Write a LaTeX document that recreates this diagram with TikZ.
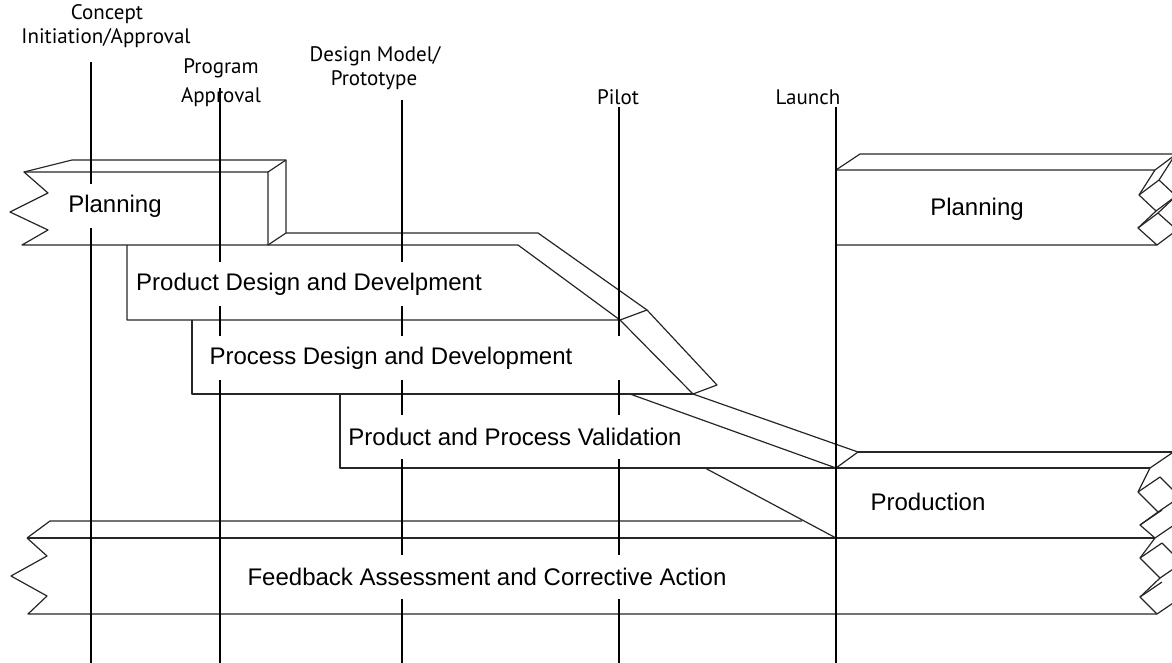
\documentclass[tikz,border=0pt]{standalone}
\usepackage{fontspec}
\setmainfont{Liberation Sans}
\newfontfamily\toplabelfont{PT Sans}
\begin{document}
\begin{tikzpicture}[x=1pt,y=-1pt,
  vline/.style={line width=2.2pt,black},
  edge/.style={line width=1.2pt,black!85,line join=round},
  boxlbl/.style={font=\fontsize{24}{24}\selectfont,fill=white,inner xsep=3pt,inner ysep=0pt,minimum height=44pt,anchor=center},
  gapfill/.style={fill=white,inner sep=0pt,minimum width=16pt,minimum height=44pt},
  toplbl/.style={font=\toplabelfont\fontsize{21}{22}\selectfont,inner sep=0pt,anchor=center}
]
\useasboundingbox (0,0) rectangle (1172,663);

% ---------- top labels ----------
\node[toplbl] (tc1) at (107,14) {Concept};
\node[toplbl] (tc2) at (106,38) {Initiation/Approval};
\node[toplbl] (tp1) at (221,68) {Program};
\node[toplbl] (tp2) at (221,97) {Approval};
\node[toplbl] (td1) at (375,56) {Design Model/};
\node[toplbl] (td2) at (374,80) {Prototype};
\node[toplbl] (tpi) at (618,97) {Pilot};
\node[toplbl] (tla) at (808,97) {Launch};

% ---------- left Planning ----------
\draw[edge] (24,172) -- (48,193) -- (10,212) -- (48,230) -- (22,245) -- (268,245) -- (268,172) -- cycle;
\draw[edge] (24,172) -- (72,160) -- (286,160) -- (286,233) -- (268,245);
\draw[edge] (268,172) -- (286,160);

% ---------- Product Design ----------
\draw[edge] (268,245) -- (518,245) -- (620,320) -- (127,320) -- (127,245);
\draw[edge] (286,233) -- (538,233) -- (647,310) -- (620,320);
\draw[edge] (620,320) -- (693,394) -- (717,385) -- (647,310);

% ---------- Process Design ----------
\draw[edge] (192,320) -- (192,394) -- (693,394);
\draw[edge] (693,394) -- (858,452);
\draw[edge] (630,394) -- (836,468) -- (858,452);

% ---------- Validation ----------
\draw[edge] (340,394) -- (340,468) -- (1150,468);
\draw[edge] (705,468) -- (836,538);

% ---------- right Planning ----------
\draw[edge] (836,170) -- (1155,170) -- (1139,195) -- (1156,211) -- (1138,228) -- (1157,245) -- (836,245);
\draw[edge] (836,170) -- (860,154) -- (1175,154);
\draw[edge] (1155,170) -- (1175,155) (1139,195) -- (1159,180) -- (1176,196) -- (1158,213) -- (1177,230);
\draw[edge] (1156,211) -- (1176,196) (1138,228) -- (1158,213) (1157,245) -- (1177,230) (1175,155) -- (1159,180);

% ---------- Production ----------
\draw[edge] (858,452) -- (1175,452);
\draw[edge] (1150,468) -- (1138,492) -- (1158,512) -- (1140,525) -- (1155,538);
\draw[edge] (1150,468) -- (1172,453) (1138,492) -- (1160,477) -- (1180,497) (1158,512) -- (1180,497);
\draw[edge] (1140,525) -- (1162,510) (1155,538) -- (1177,523);

% ---------- Feedback ----------
\draw[edge] (27,538) -- (47,556) -- (11,576) -- (47,596) -- (28,614) -- (1157,614);
\draw[edge] (27,538) -- (1155,538);
\draw[edge] (27,538) -- (50,521) -- (802,521);
\draw[edge] (1155,538) -- (1140,558) -- (1160,578) -- (1140,597) -- (1157,614);
\draw[edge] (1140,558) -- (1162,543) -- (1182,563) (1160,578) -- (1182,563);
\draw[edge] (1140,597) -- (1162,582) (1157,614) -- (1179,599);

% ---------- milestone lines ----------
\coordinate (c1t) at (91,62);   \coordinate (c1b) at (91,663);
\coordinate (c2t) at (220,88);  \coordinate (c2b) at (220,663);
\coordinate (c3t) at (402,100); \coordinate (c3b) at (402,663);
\coordinate (c4t) at (619,107); \coordinate (c4b) at (619,663);
\coordinate (c5t) at (836,107); \coordinate (c5b) at (836,663);
\draw[vline] (c1t) -- (c1b);
\draw[vline] (c2t) -- (c2b);
\draw[vline] (c3t) -- (c3b);
\draw[vline] (c4t) -- (c4b);
\draw[vline] (c5t) -- (c5b);

% ---------- box labels ----------
\node[boxlbl] (plan1) at (115,206) {Planning};
\node[boxlbl] (prod) at (309,284) {Product Design and Develpment};
\node[boxlbl] (proc) at (391,358) {Process Design and Development};
\node[gapfill] (procgap) at (619,358) {};
\node[boxlbl] (valid) at (515,437) {Product and Process Validation};
\node[boxlbl] (plan2) at (977,209) {Planning};
\node[boxlbl] (prodn) at (928,502) {Production};
\node[boxlbl] (feed) at (487,577) {Feedback Assessment and Corrective Action};
\end{tikzpicture}
\end{document}
